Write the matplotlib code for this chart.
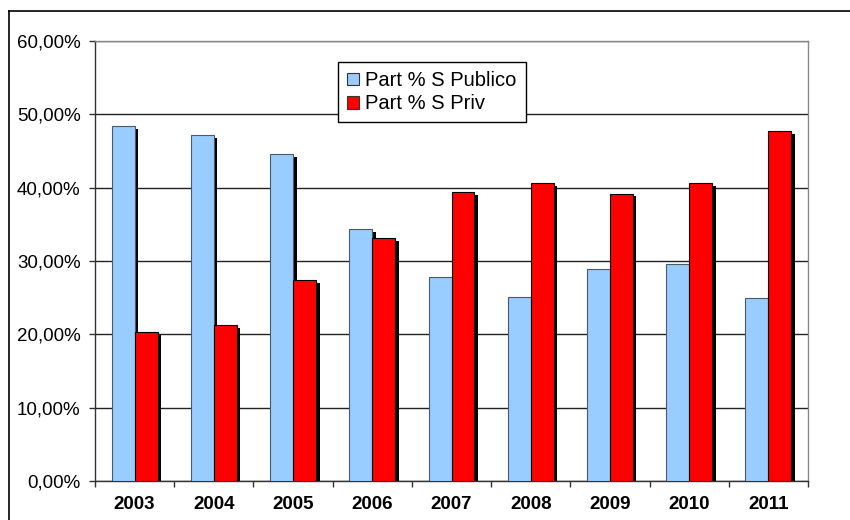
import matplotlib
matplotlib.use("Agg")
import matplotlib.pyplot as plt
import matplotlib.patheffects as pe
from matplotlib.patches import Patch
from matplotlib.lines import Line2D
from matplotlib.ticker import FuncFormatter
import numpy as np

plt.rcParams['font.family'] = ['Liberation Sans', 'DejaVu Sans']

years = ['2003', '2004', '2005', '2006', '2007', '2008', '2009', '2010', '2011']
publico = [48.4, 47.2, 44.6, 34.4, 27.8, 25.1, 28.9, 29.6, 25.0]
privado = [20.3, 21.3, 27.4, 33.1, 39.4, 40.6, 39.2, 40.6, 47.7]
series_names = ['Part % S Publico', 'Part % S Priv']

blue = '#99CCFF'
red = '#FF0000'

fig = plt.figure(figsize=(8.5, 5.2), dpi=100)
ax = fig.add_axes([95 / 850, 1 - 481 / 520, 713 / 850, 440 / 520])

x = np.arange(len(years))
w = 0.29
shadow = [pe.SimplePatchShadow(offset=(2.5, -2.1), shadow_rgbFace='black', alpha=1.0),
          pe.Normal()]

ax.bar(x - w / 2, publico, width=w, color=blue, edgecolor='#4a5a6a',
       linewidth=0.8, path_effects=shadow, zorder=3)
ax.bar(x + w / 2, privado, width=w, color=red, edgecolor='#000000',
       linewidth=0.8, path_effects=shadow, zorder=3)

ax.set_xlim(-0.5, len(years) - 0.5)
ax.set_ylim(0, 60)
ax.set_yticks(np.arange(0, 61, 10))
ax.yaxis.set_major_formatter(FuncFormatter(lambda v, p: f"{v:.2f}".replace('.', ',') + '%'))
ax.yaxis.grid(True, color='#222222', linewidth=1.0, zorder=0)
ax.set_axisbelow(True)

ax.set_xticks(x)
ax.set_xticklabels(years, fontweight='bold', fontsize=13.5)
ax.set_xticks(np.arange(-0.5, len(years), 1.0), minor=True)
ax.tick_params(axis='x', which='major', length=0, pad=11)
ax.tick_params(axis='x', which='minor', length=4.3, width=1.0, color='#333333', direction='out')
ax.tick_params(axis='y', length=4.3, width=1.0, color='#333333', direction='out',
               labelsize=13.5, pad=6)

for side in ('top', 'right'):
    ax.spines[side].set_color('#888888')
    ax.spines[side].set_linewidth(1.0)
for side in ('left', 'bottom'):
    ax.spines[side].set_color('#333333')
    ax.spines[side].set_linewidth(1.0)

handles = [Patch(facecolor=blue, edgecolor='#333333', linewidth=0.8),
           Patch(facecolor=red, edgecolor='#333333', linewidth=0.8)]
leg = ax.legend(handles, series_names, loc='upper left', bbox_to_anchor=(0.341, 0.952),
                fontsize=14.5, frameon=True, fancybox=False, framealpha=1,
                edgecolor='black', handlelength=0.6, handleheight=0.6,
                handletextpad=0.3, borderpad=0.45, labelspacing=0.2,
                borderaxespad=0)
leg.get_frame().set_linewidth(1.0)

# chart-area border (left and top edges)
fig.add_artist(Line2D([9 / 850, 9 / 850], [0, 1 - 11 / 520], transform=fig.transFigure,
                      color='black', linewidth=1.2))
fig.add_artist(Line2D([9 / 850, 1], [1 - 11 / 520, 1 - 11 / 520], transform=fig.transFigure,
                      color='black', linewidth=1.2))

fig.savefig('out.png', dpi=100)
